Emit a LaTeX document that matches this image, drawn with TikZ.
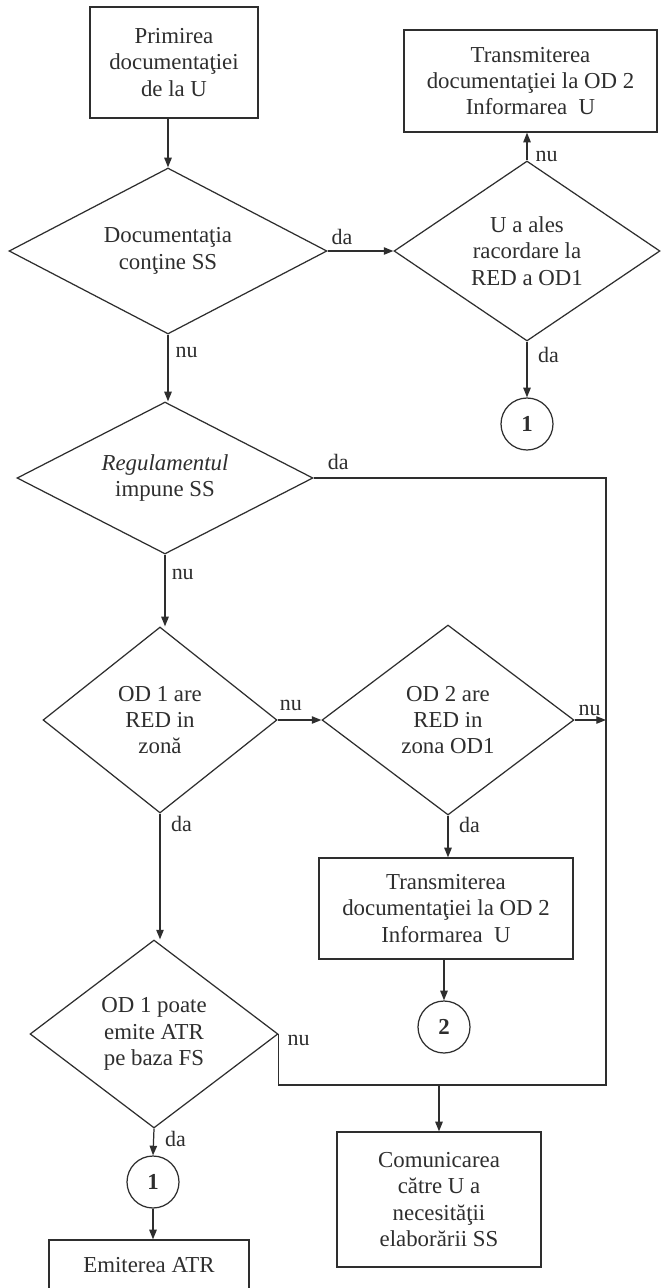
\documentclass[tikz,border=0pt]{standalone}
\usepackage{fontspec}
\setmainfont{Liberation Serif}
\usepackage{tikz}
\usetikzlibrary{arrows.meta,positioning,shapes.geometric}
\definecolor{inkCol}{HTML}{2E2E2E}
\newcommand{\bodyfont}{\fontsize{13}{15}\selectfont}
\tikzset{
  proc/.style={draw=inkCol, rectangle, line width=0.7pt, align=center, inner sep=2pt,
               text=inkCol, font=\bodyfont},
  decide/.style={draw=inkCol, diamond, aspect=1.5, line width=0.7pt, align=center,
                 inner sep=0pt, text=inkCol, font=\bodyfont},
  conn/.style={draw=inkCol, circle, line width=0.7pt, minimum size=1.04cm, inner sep=0pt,
               text=inkCol, font=\bodyfont\bfseries},            % off-page connector
  arr/.style={-{Triangle[length=5.5pt,width=4.2pt]}, draw=inkCol, line width=0.7pt},
  wire/.style={draw=inkCol, line width=0.7pt},                    % plain line, no tip
  lbl/.style={font=\fontsize{12.5}{14}\selectfont, text=inkCol, inner sep=1pt},
}
\begin{document}
\begin{tikzpicture}[x=0.02cm, y=-0.02cm]
  \fill[white] (0,0) rectangle (660,1288);
  \useasboundingbox (0,0) rectangle (660,1288);
  \def\xRail{606}\def\yTop{478}\def\yBot{1085}

  % left column
  \node[proc, minimum width=3.36cm, minimum height=2.22cm] (recv) at (174,62.5)
       {Primirea\\documentaţiei\\de la U};
  \node[decide, minimum width=6.36cm, minimum height=3.32cm] (hasSS) at (168,251)
       {Documentaţia\\conţine SS};
  \node[decide, minimum width=5.92cm, minimum height=3.04cm] (regSS) at (165,\yTop)
       {\textit{Regulamentul}\\impune SS};
  \node[decide, minimum width=4.68cm, minimum height=3.72cm] (od1red) at (160,720)
       {OD 1 are\\RED in\\zonă};
  \node[decide, minimum width=4.96cm, minimum height=3.76cm] (od1atr) at (154,1034)
       {OD 1 poate\\emite ATR\\pe baza FS};
  \node[conn] (c1b) at (153,1182) {1};
  \node[proc, minimum width=4.0cm, minimum height=1.0cm] (emit) at (149,1265)
       {Emiterea ATR};

  % right column
  \node[proc, minimum width=5.06cm, minimum height=2.04cm] (send1) at (530.5,81)
       {Transmiterea\\documentaţiei la OD 2\\Informarea~~U};
  \node[decide, minimum width=5.32cm, minimum height=3.6cm] (chose) at (527,251)
       {U a ales\\racordare la\\RED a OD1};
  \node[conn] (c1a) at (527,424) {1};
  \node[decide, minimum width=5.04cm, minimum height=3.8cm] (od2red) at (448,720)
       {OD 2 are\\RED in\\zona OD1};
  \node[proc, minimum width=5.08cm, minimum height=2.02cm] (send2) at (446,908.5)
       {Transmiterea\\documentaţiei la OD 2\\Informarea~~U};
  \node[conn] (c2) at (444,1027) {2};
  \node[proc, minimum width=4.08cm, minimum height=2.7cm] (notify) at (439,1199.5)
       {Comunicarea\\către U a\\necesităţii\\elaborării SS};

  \coordinate (railTop) at (\xRail,\yTop);
  \coordinate (railBot) at (\xRail,\yBot);

  % flow
  \draw[arr] (recv.south -| hasSS.north) -- (hasSS.north);
  \draw[arr] (hasSS.east) -- (chose.west)
    node[lbl, pos=0, anchor=south west, xshift=1pt, yshift=2pt] {da};
  \draw[arr] (chose.north) -- (chose.north |- send1.south)
    node[lbl, pos=0, anchor=west, xshift=3.5pt, yshift=2pt] {nu};
  \draw[arr] (chose.south) -- (c1a.north)
    node[lbl, pos=0, anchor=north west, xshift=5pt, yshift=-2pt] {da};
  \draw[arr] (hasSS.south) -- (hasSS.south |- regSS.north)
    node[lbl, pos=0, anchor=north west, xshift=3pt, yshift=-6pt] {nu};
  \draw[arr] (regSS.south) -- (regSS.south |- od1red.north)
    node[lbl, pos=0, anchor=north west, xshift=2.5pt, yshift=-7pt] {nu};
  \draw[arr] (od1red.east) -- (od2red.west)
    node[lbl, pos=0, anchor=south west, xshift=0pt, yshift=4pt] {nu};
  \draw[arr] (od2red.east) -- (od2red.east -| railTop)
    node[lbl, pos=0, anchor=south west, xshift=1pt, yshift=1pt] {nu};
  \draw[arr] (od2red.south) -- (od2red.south |- send2.north)
    node[lbl, pos=0, anchor=north west, xshift=5pt, yshift=0.5pt] {da};
  \draw[arr] (send2.south -| c2) -- (c2.north);
  \draw[arr] (od1red.south) -- (od1red.south |- od1atr.north)
    node[lbl, pos=0, anchor=north west, xshift=5pt, yshift=0pt] {da};
  \draw[arr] (od1atr.south) -- (c1b.north)
    node[lbl, pos=0, anchor=north west, xshift=5pt, yshift=0pt] {da};
  \draw[arr] (c1b.south) -- (c1b.south |- emit.north);

  % rail to the notice box
  \draw[wire] (regSS.east) -- (railTop) -- (railBot) -| (od1atr.east);
  \path (regSS.east) node[lbl, anchor=south west, xshift=7pt, yshift=3.5pt] {da};
  \path (od1atr.east) node[lbl, anchor=west, xshift=4pt, yshift=-3.5pt] {nu};
  \draw[arr] (notify.north |- railBot) -- (notify.north);
\end{tikzpicture}
\end{document}
